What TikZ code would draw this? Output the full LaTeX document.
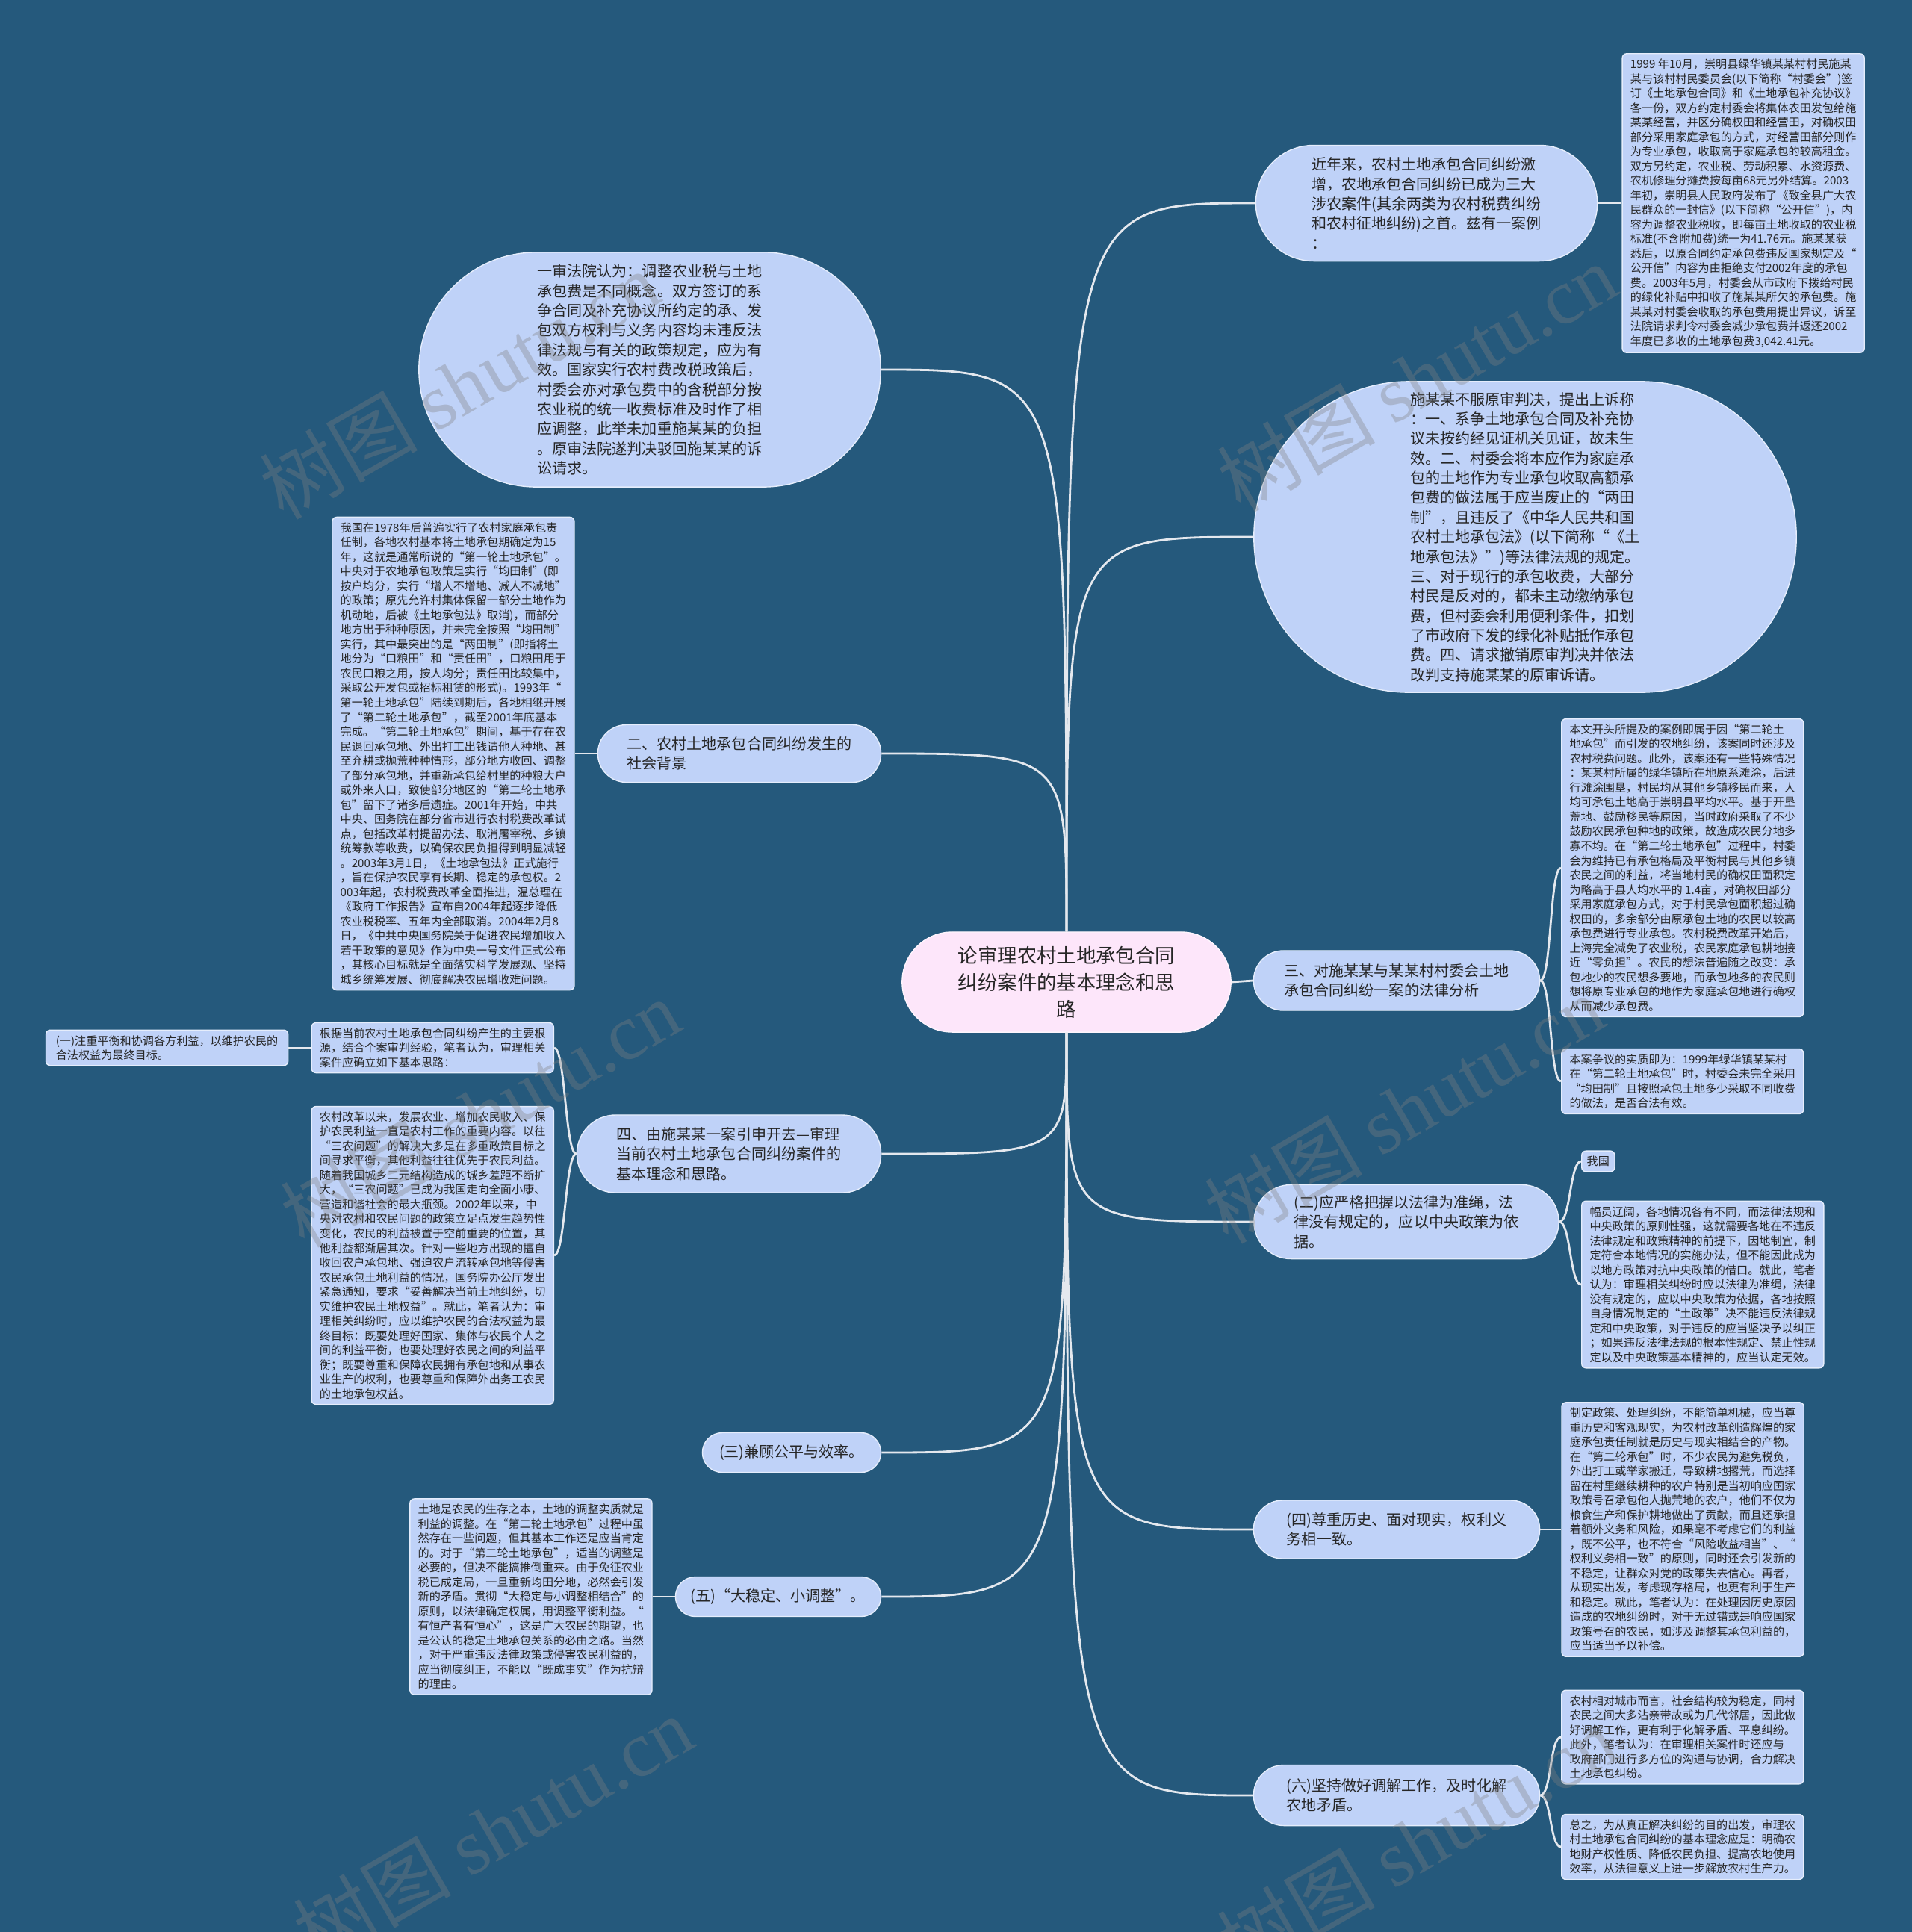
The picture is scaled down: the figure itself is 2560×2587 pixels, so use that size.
\documentclass[tikz,border=0pt]{standalone}
\usepackage{fontspec}
\setmainfont{Noto Sans CJK SC}
\newfontfamily\wmfont{Liberation Serif}
\usetikzlibrary{shapes.misc,positioning}
\definecolor{bg}{HTML}{25597C}
\definecolor{nodefill}{HTML}{BFD2F8}
\definecolor{rootfill}{HTML}{FDE6FA}
\definecolor{lncol}{HTML}{E4E8EE}
\definecolor{txt}{HTML}{262626}
\tikzset{root/.style={rounded rectangle,draw=white!60!rootfill,fill=rootfill,text=txt,align=center,font=\fontsize{7.5}{10.2}\selectfont,inner xsep=0pt,inner ysep=2pt,minimum width=4.4cm,minimum height=1.34cm},
 br/.style 2 args={rounded rectangle,draw=white!60!nodefill,fill=nodefill,text=txt,align=left,font=\fontsize{5.7}{7.5}\selectfont,inner xsep=0pt,inner ysep=2pt,minimum width=#1cm,minimum height=#2cm},
 bx/.style={draw=white!60!nodefill,fill=nodefill,text=txt,rounded corners=0.06cm,align=left,font=\fontsize{4.3}{5.55}\selectfont,inner sep=0.07cm,minimum width=3.24cm},
 ln/.style={draw=lncol,line width=0.8pt},
 cv/.style={to path={.. controls (\tikztostart |- \tikztotarget) .. (\tikztotarget)}},
 sb/.style={out=0,in=180,distance=0.15cm},
 wm/.style={text=gray,text opacity=0.35,font=\fontsize{30}{30}\selectfont,rotate=30}}

\begin{document}
\begin{tikzpicture}[x=0.01cm,y=-0.01cm]
\fill[bg,use as bounding box](0,0)rectangle(2560,2587);\clip(0,0)rectangle(2560,2587);
% centre
\node[root](c)at(1428,1315){论审理农村土地承包合同\\纠纷案件的基本理念和思\\路};
% upper part
\node[br={4.57}{1.55}](a)at(1910,272){近年来，农村土地承包合同纠纷激\\增，农地承包合同纠纷已成为三大\\涉农案件(其余两类为农村税费纠纷\\和农村征地纠纷)之首。兹有一案例\\：};
\node[bx,right=0.32cm of a](b){1999 年10月，崇明县绿华镇某某村村民施某\\某与该村村民委员会(以下简称“村委会”)签\\订《土地承包合同》和《土地承包补充协议》\\各一份，双方约定村委会将集体农田发包给施\\某某经营，并区分确权田和经营田，对确权田\\部分采用家庭承包的方式，对经营田部分则作\\为专业承包，收取高于家庭承包的较高租金。\\双方另约定，农业税、劳动积累、水资源费、\\农机修理分摊费按每亩68元另外结算。2003\\年初，崇明县人民政府发布了《致全县广大农\\民群众的一封信》(以下简称“公开信”)，内\\容为调整农业税收，即每亩土地收取的农业税\\标准(不含附加费)统一为41.76元。施某某获\\悉后，以原合同约定承包费违反国家规定及“\\公开信”内容为由拒绝支付2002年度的承包\\费。2003年5月，村委会从市政府下拨给村民\\的绿化补贴中扣收了施某某所欠的承包费。施\\某某对村委会收取的承包费用提出异议，诉至\\法院请求判令村委会减少承包费并返还2002\\年度已多收的土地承包费3,042.41元。};
\node[br={7.26}{4.16}](cc)at(2042,719){施某某不服原审判决，提出上诉称\\：一、系争土地承包合同及补充协\\议未按约经见证机关见证，故未生\\效。二、村委会将本应作为家庭承\\包的土地作为专业承包收取高额承\\包费的做法属于应当废止的“两田\\制”，且违反了《中华人民共和国\\农村土地承包法》(以下简称“《土\\地承包法》”)等法律法规的规定。\\三、对于现行的承包收费，大部分\\村民是反对的，都未主动缴纳承包\\费，但村委会利用便利条件，扣划\\了市政府下发的绿化补贴抵作承包\\费。四、请求撤销原审判决并依法\\改判支持施某某的原审诉请。};
\node[br={6.18}{3.14}](d)at(870,495){一审法院认为：调整农业税与土地\\承包费是不同概念。双方签订的系\\争合同及补充协议所约定的承、发\\包双方权利与义务内容均未违反法\\律法规与有关的政策规定，应为有\\效。国家实行农村费改税政策后，\\村委会亦对承包费中的含税部分按\\农业税的统一收费标准及时作了相\\应调整，此举未加重施某某的负担\\。原审法院遂判决驳回施某某的诉\\讼请求。};
\node[br={3.79}{0.77}](q)at(990,1009){二、农村土地承包合同纠纷发生的\\社会背景};
\node[bx,left=0.3cm of q](e){我国在1978年后普遍实行了农村家庭承包责\\任制，各地农村基本将土地承包期确定为15\\年，这就是通常所说的“第一轮土地承包”。\\中央对于农地承包政策是实行“均田制”(即\\按户均分，实行“增人不增地、减人不减地”\\的政策；原先允许村集体保留一部分土地作为\\机动地，后被《土地承包法》取消)，而部分\\地方出于种种原因，并未完全按照“均田制”\\实行，其中最突出的是“两田制”(即指将土\\地分为“口粮田”和“责任田”，口粮田用于\\农民口粮之用，按人均分；责任田比较集中，\\采取公开发包或招标租赁的形式)。1993年“\\第一轮土地承包”陆续到期后，各地相继开展\\了“第二轮土地承包”，截至2001年底基本\\完成。“第二轮土地承包”期间，基于存在农\\民退回承包地、外出打工出钱请他人种地、甚\\至弃耕或抛荒种种情形，部分地方收回、调整\\了部分承包地，并重新承包给村里的种粮大户\\或外来人口，致使部分地区的“第二轮土地承\\包”留下了诸多后遗症。2001年开始，中共\\中央、国务院在部分省市进行农村税费改革试\\点，包括改革村提留办法、取消屠宰税、乡镇\\统筹款等收费，以确保农民负担得到明显减轻\\。2003年3月1日，《土地承包法》正式施行\\，旨在保护农民享有长期、稳定的承包权。2\\003年起，农村税费改革全面推进，温总理在\\《政府工作报告》宣布自2004年起逐步降低\\农业税税率、五年内全部取消。2004年2月8\\日，《中共中央国务院关于促进农民增加收入\\若干政策的意见》作为中央一号文件正式公布\\，其核心目标就是全面落实科学发展观、坚持\\城乡统筹发展、彻底解决农民增收难问题。};
% lower left
\node[br={4.07}{1.04}](r)at(976,1545){四、由施某某一案引申开去—审理\\当前农村土地承包合同纠纷案件的\\基本理念和思路。};
\node[bx,anchor=east](s)at(742,1403){根据当前农村土地承包合同纠纷产生的主要根\\源，结合个案审判经验，笔者认为，审理相关\\案件应确立如下基本思路：};
\node[bx,left=0.3cm of s](t){(一)注重平衡和协调各方利益，以维护农民的\\合法权益为最终目标。};
\node[bx,anchor=east](u)at(742,1681){农村改革以来，发展农业、增加农民收入、保\\护农民利益一直是农村工作的重要内容。以往\\“三农问题”的解决大多是在多重政策目标之\\间寻求平衡，其他利益往往优先于农民利益。\\随着我国城乡二元结构造成的城乡差距不断扩\\大，“三农问题”已成为我国走向全面小康、\\营造和谐社会的最大瓶颈。2002年以来，中\\央对农村和农民问题的政策立足点发生趋势性\\变化，农民的利益被置于空前重要的位置，其\\他利益都渐居其次。针对一些地方出现的擅自\\收回农户承包地、强迫农户流转承包地等侵害\\农民承包土地利益的情况，国务院办公厅发出\\紧急通知，要求“妥善解决当前土地纠纷，切\\实维护农民土地权益”。就此，笔者认为：审\\理相关纠纷时，应以维护农民的合法权益为最\\终目标：既要处理好国家、集体与农民个人之\\间的利益平衡，也要处理好农民之间的利益平\\衡；既要尊重和保障农民拥有承包地和从事农\\业生产的权利，也要尊重和保障外出务工农民\\的土地承包权益。};
\node[br={2.39}{0.53}](v)at(1060,1945){(三)兼顾公平与效率。};
\node[br={2.75}{0.53}](w)at(1042,2138){(五)“大稳定、小调整”。};
\node[bx,left=0.3cm of w](x){土地是农民的生存之本，土地的调整实质就是\\利益的调整。在“第二轮土地承包”过程中虽\\然存在一些问题，但其基本工作还是应当肯定\\的。对于“第二轮土地承包”，适当的调整是\\必要的，但决不能搞推倒重来。由于免征农业\\税已成定局，一旦重新均田分地，必然会引发\\新的矛盾。贯彻“大稳定与小调整相结合”的\\原则，以法律确定权属，用调整平衡利益。“\\有恒产者有恒心”，这是广大农民的期望，也\\是公认的稳定土地承包关系的必由之路。当然\\，对于严重违反法律政策或侵害农民利益的，\\应当彻底纠正，不能以“既成事实”作为抗辩\\的理由。};
% lower right
\node[br={3.83}{0.80}](h)at(1870,1313){三、对施某某与某某村村委会土地\\承包合同纠纷一案的法律分析};
\node[bx,anchor=west](f)at(2090,1162){本文开头所提及的案例即属于因“第二轮土\\地承包”而引发的农地纠纷，该案同时还涉及\\农村税费问题。此外，该案还有一些特殊情况\\：某某村所属的绿华镇所在地原系滩涂，后进\\行滩涂围垦，村民均从其他乡镇移民而来，人\\均可承包土地高于崇明县平均水平。基于开垦\\荒地、鼓励移民等原因，当时政府采取了不少\\鼓励农民承包种地的政策，故造成农民分地多\\寡不均。在“第二轮土地承包”过程中，村委\\会为维持已有承包格局及平衡村民与其他乡镇\\农民之间的利益，将当地村民的确权田面积定\\为略高于县人均水平的 1.4亩，对确权田部分\\采用家庭承包方式，对于村民承包面积超过确\\权田的，多余部分由原承包土地的农民以较高\\承包费进行专业承包。农村税费改革开始后，\\上海完全减免了农业税，农民家庭承包耕地接\\近“零负担”。农民的想法普遍随之改变：承\\包地少的农民想多要地，而承包地多的农民则\\想将原专业承包的地作为家庭承包地进行确权\\从而减少承包费。};
\node[bx,anchor=west](g)at(2090,1448){本案争议的实质即为：1999年绿华镇某某村\\在“第二轮土地承包”时，村委会未完全采用\\“均田制”且按照承包土地多少采取不同收费\\的做法，是否合法有效。};
\node[br={4.08}{0.99}](i)at(1883,1636){(二)应严格把握以法律为准绳，法\\律没有规定的，应以中央政策为依\\据。};
\node[bx,anchor=west,minimum width=0pt](j)at(2117,1555){我国};
\node[bx,anchor=west](k)at(2117,1720){幅员辽阔，各地情况各有不同，而法律法规和\\中央政策的原则性强，这就需要各地在不违反\\法律规定和政策精神的前提下，因地制宜，制\\定符合本地情况的实施办法，但不能因此成为\\以地方政策对抗中央政策的借口。就此，笔者\\认为：审理相关纠纷时应以法律为准绳，法律\\没有规定的，应以中央政策为依据，各地按照\\自身情况制定的“土政策”决不能违反法律规\\定和中央政策，对于违反的应当坚决予以纠正\\；如果违反法律法规的根本性规定、禁止性规\\定以及中央政策基本精神的，应当认定无效。};
\node[br={3.83}{0.78}](l)at(1870,2048){(四)尊重历史、面对现实，权利义\\务相一致。};
\node[bx,right=0.28cm of l](m){制定政策、处理纠纷，不能简单机械，应当尊\\重历史和客观现实，为农村改革创造辉煌的家\\庭承包责任制就是历史与现实相结合的产物。\\在“第二轮承包”时，不少农民为避免税负，\\外出打工或举家搬迁，导致耕地撂荒，而选择\\留在村里继续耕种的农户特别是当初响应国家\\政策号召承包他人抛荒地的农户，他们不仅为\\粮食生产和保护耕地做出了贡献，而且还承担\\着额外义务和风险，如果毫不考虑它们的利益\\，既不公平，也不符合“风险收益相当”、“\\权利义务相一致”的原则，同时还会引发新的\\不稳定，让群众对党的政策失去信心。再者，\\从现实出发，考虑现存格局，也更有利于生产\\和稳定。就此，笔者认为：在处理因历史原因\\造成的农地纠纷时，对于无过错或是响应国家\\政策号召的农民，如涉及调整其承包利益的，\\应当适当予以补偿。};
\node[br={3.83}{0.81}](n)at(1870,2404){(六)坚持做好调解工作，及时化解\\农地矛盾。};
\node[bx,anchor=west](o)at(2090,2326){农村相对城市而言，社会结构较为稳定，同村\\农民之间大多沾亲带故或为几代邻居，因此做\\好调解工作，更有利于化解矛盾、平息纠纷。\\此外，笔者认为：在审理相关案件时还应与\\政府部门进行多方位的沟通与协调，合力解决\\土地承包纠纷。};
\node[bx,anchor=west](p)at(2090,2473){总之，为从真正解决纠纷的目的出发，审理农\\村土地承包合同纠纷的基本理念应是：明确农\\地财产权性质、降低农民负担、提高农地使用\\效率，从法律意义上进一步解放农村生产力。};
% connectors
\draw[ln](c.north)to[cv](a.west);\draw[ln](c.north)to[cv](cc.west);\draw[ln](c.north)to[cv](d.east);\draw[ln](c.north)to[cv](q.east);
\draw[ln](c.east)--(h.west);
\draw[ln](c.south)to[cv](r.east);\draw[ln](c.south)to[cv](v.east);\draw[ln](c.south)to[cv](w.east);
\draw[ln](c.south)to[cv](i.west);\draw[ln](c.south)to[cv](l.west);\draw[ln](c.south)to[cv](n.west);
\draw[ln](a.east)--(b.west);\draw[ln](e.east)--(q.west);\draw[ln](l.east)--(m.west);\draw[ln](x.east)--(w.west);\draw[ln](t.east)--(s.west);
\draw[ln](h.east)to[sb](f.west);\draw[ln](h.east)to[sb](g.west);\draw[ln](i.east)to[sb](j.west);\draw[ln](i.east)to[sb](k.west);
\draw[ln](n.east)to[sb](o.west);\draw[ln](n.east)to[sb](p.west);\draw[ln](s.east)to[sb](r.west);\draw[ln](u.east)to[sb](r.west);
% watermarks
\foreach \x/\y [count=\k] in {615/515,1897/505,643/1490,1880/1485,660/2450,1897/2466}
 \node[wm](wm\k)at(\x,\y){树图 {\wmfont shutu.cn}};
\end{tikzpicture}
\end{document}
